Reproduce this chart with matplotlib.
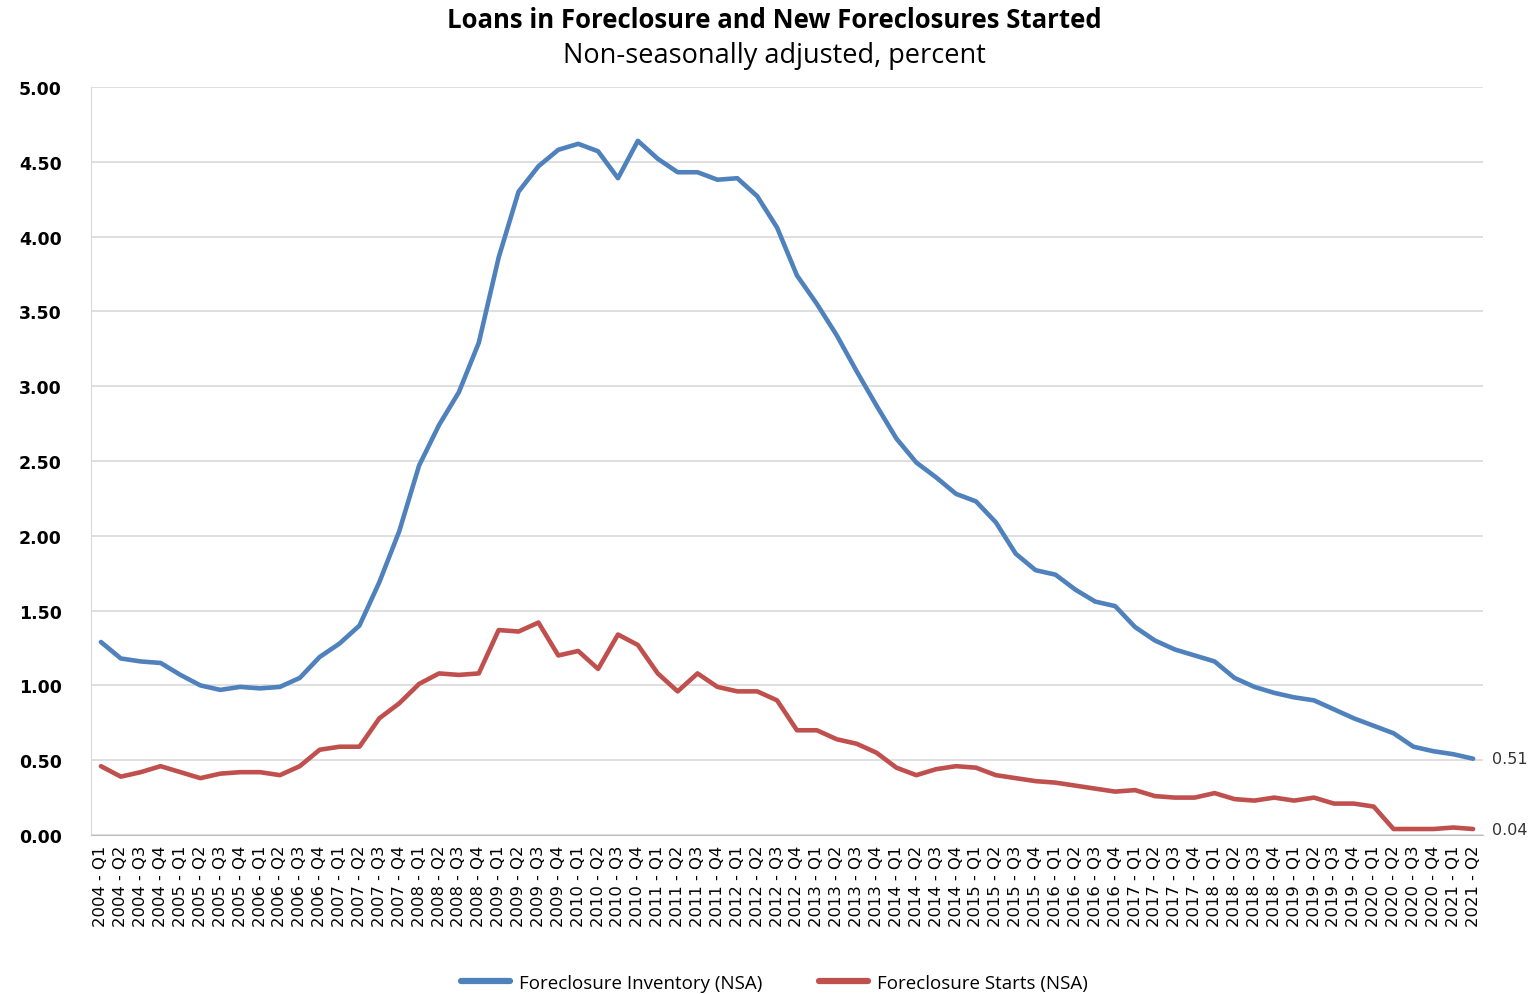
import matplotlib
matplotlib.use("Agg")
import matplotlib.pyplot as plt

# quarterly series, 2004 Q1 - 2021 Q2
years = list(range(2004, 2022))
quarters = [f"{y} - Q{q}" for y in years for q in range(1, 5)][:70]

inventory = [1.29, 1.18, 1.16, 1.15, 1.07, 1.00, 0.97, 0.99, 0.98, 0.99,
             1.05, 1.19, 1.28, 1.40, 1.69, 2.03, 2.47, 2.74, 2.96, 3.29,
             3.86, 4.30, 4.47, 4.58, 4.62, 4.57, 4.39, 4.64, 4.52, 4.43,
             4.43, 4.38, 4.39, 4.27, 4.06, 3.74, 3.55, 3.34, 3.10, 2.87,
             2.65, 2.49, 2.39, 2.28, 2.23, 2.09, 1.88, 1.77, 1.74, 1.64,
             1.56, 1.53, 1.39, 1.30, 1.24, 1.20, 1.16, 1.05, 0.99, 0.95,
             0.92, 0.90, 0.84, 0.78, 0.73, 0.68, 0.59, 0.56, 0.54, 0.51]

starts = [0.46, 0.39, 0.42, 0.46, 0.42, 0.38, 0.41, 0.42, 0.42, 0.40,
          0.46, 0.57, 0.59, 0.59, 0.78, 0.88, 1.01, 1.08, 1.07, 1.08,
          1.37, 1.36, 1.42, 1.20, 1.23, 1.11, 1.34, 1.27, 1.08, 0.96,
          1.08, 0.99, 0.96, 0.96, 0.90, 0.70, 0.70, 0.64, 0.61, 0.55,
          0.45, 0.40, 0.44, 0.46, 0.45, 0.40, 0.38, 0.36, 0.35, 0.33,
          0.31, 0.29, 0.30, 0.26, 0.25, 0.25, 0.28, 0.24, 0.23, 0.25,
          0.23, 0.25, 0.21, 0.21, 0.19, 0.04, 0.04, 0.04, 0.05, 0.04]

blue = "#4F81BD"
red = "#C0504D"

fig = plt.figure(figsize=(15.37, 9.95), dpi=100)
ax = fig.add_axes([0.0592, 0.1598, 0.9057, 0.7518])

x = list(range(len(quarters)))
ax.plot(x, inventory, color=blue, lw=3.3, solid_joinstyle="round",
        solid_capstyle="round", label="Foreclosure Inventory (NSA)")
ax.plot(x, starts, color=red, lw=3.3, solid_joinstyle="round",
        solid_capstyle="round", label="Foreclosure Starts (NSA)")

ax.set_xlim(-0.5, len(quarters) - 0.5)
ax.set_ylim(0, 5)
ax.set_yticks([i * 0.5 for i in range(11)])
ax.set_yticklabels([f"{i * 0.5:.2f}" for i in range(11)],
                   fontsize=12.5, fontweight="bold", family="DejaVu Sans")
ax.tick_params(axis="y", length=0, pad=21)
ax.set_xticks(x)
ax.set_xticklabels(quarters, rotation=90, fontsize=11.8,
                   family="DejaVu Sans")
ax.tick_params(axis="x", length=0, pad=7)

ax.grid(axis="y", color="#D9D9D9", lw=1.2)
ax.set_axisbelow(True)
for side in ("top", "right"):
    ax.spines[side].set_visible(False)
ax.spines["left"].set_color("#D9D9D9")
ax.spines["bottom"].set_color("#BFBFBF")

# end-of-series values
for series in (inventory, starts):
    ax.text(len(x) - 1 + 0.95, series[-1], f"{series[-1]:.2f}",
            va="center", ha="left", fontsize=11.5, color="#333333",
            family="DejaVu Sans")

fig.text(0.504, 0.979, "Loans in Foreclosure and New Foreclosures Started",
         ha="center", va="center", fontsize=18.5, fontweight="bold",
         family="Open Sans")
fig.text(0.504, 0.944, "Non-seasonally adjusted, percent",
         ha="center", va="center", fontsize=19.5, family="Open Sans")

leg = fig.legend(loc="center", bbox_to_anchor=(0.504, 0.011), ncol=2,
                 frameon=False, handlelength=2.6, handletextpad=0.5,
                 columnspacing=3.0,
                 prop={"family": "Open Sans", "size": 13.5})
for line in leg.get_lines():
    line.set_linewidth(4.5)

fig.savefig("out.png", dpi=100, facecolor="white")
